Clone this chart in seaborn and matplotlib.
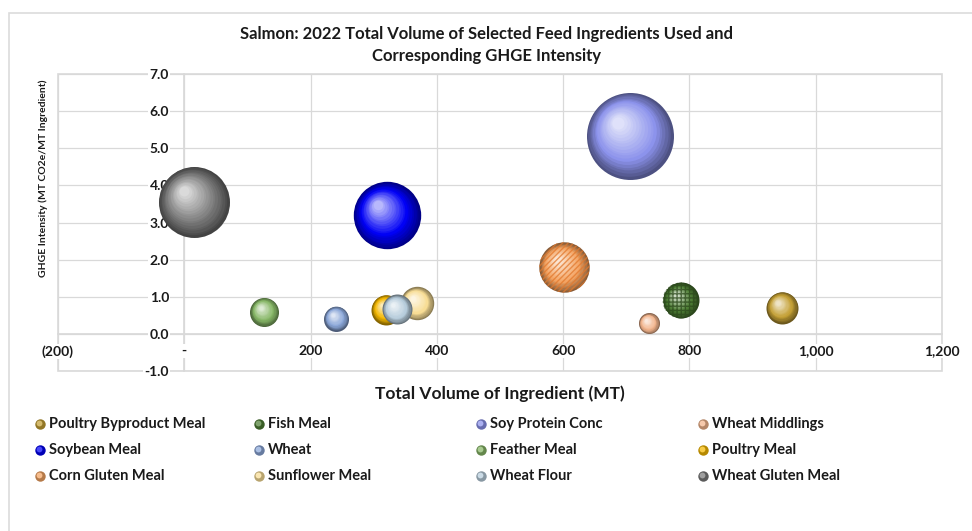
import numpy as np
import pandas as pd
import matplotlib
matplotlib.use("Agg")
import matplotlib.pyplot as plt
import matplotlib.colors as mcolors
from matplotlib.transforms import offset_copy
from matplotlib.patches import Rectangle
from matplotlib.lines import Line2D
from matplotlib.ticker import FuncFormatter, MultipleLocator
import seaborn as sns

# ---- data -------------------------------------------------------------
ingredients = [
    "Poultry Byproduct Meal", "Fish Meal", "Soy Protein Conc", "Wheat Middlings",
    "Soybean Meal", "Wheat", "Feather Meal", "Poultry Meal",
    "Corn Gluten Meal", "Sunflower Meal", "Wheat Flour", "Wheat Gluten Meal",
]
volume_mt = [947, 786, 706, 736, 321, 241, 127, 320, 602, 369, 337, 15]
ghge_intensity = [0.71, 0.90, 5.34, 0.28, 3.19, 0.41, 0.59, 0.65, 1.79, 0.82, 0.66, 3.55]
bubble_size = [256, 324, 1892, 110, 1136, 156, 210, 225, 635, 279, 225, 1260]
colors = [
    "#C4A035", "#4E7F35", "#8C93EC", "#F2B48C",
    "#0000F5", "#8AA6D8", "#86B666", "#F5B800",
    "#F4A462", "#F8DD95", "#B7CDDC", "#7A7A7A",
]
hatches = {"Corn Gluten Meal": ("//////", "#E2792E"), "Fish Meal": ("++++", "#2C4A1C")}

x_ticks = [-200, 0, 200, 400, 600, 800, 1000, 1200]
y_ticks = [-1, 0, 1, 2, 3, 4, 5, 6, 7]
title = "Salmon: 2022 Total Volume of Selected Feed Ingredients Used and\nCorresponding GHGE Intensity"
x_label = "Total Volume of Ingredient (MT)"
y_label = "GHGE Intensity (MT CO2e/MT Ingredient)"

df = pd.DataFrame({
    "Ingredient": ingredients,
    "Volume": volume_mt,
    "Intensity": ghge_intensity,
    "Bubble": bubble_size,
    "Color": colors,
})

# ---- style ------------------------------------------------------------
sns.set_theme(style="white")
plt.rcParams["font.family"] = ["Lato", "DejaVu Sans"]
plt.rcParams["font.weight"] = "bold"
plt.rcParams["hatch.linewidth"] = 1.0
GRID = "#d9d9d9"
TXT = "#1a1a1a"
AREA_PER_UNIT = 2.0736  # points^2 of marker area per bubble-size unit


def mix(c1, c2, t):
    a = np.array(mcolors.to_rgb(c1))
    b = np.array(mcolors.to_rgb(c2))
    return tuple(a + (b - a) * t)


def sphere_color(base, f):
    dark = mix(base, "black", 0.45)
    if f < 0.35:
        return mix(dark, base, f / 0.35)
    return mix(base, "white", 0.72 * (f - 0.35) / 0.65)


W, H = 972, 531
fig = plt.figure(figsize=(W / 100, H / 100), dpi=100)
ax = fig.add_axes([58 / W, 1 - 371 / H, (942 - 58) / W, (371 - 74) / H])

# outer chart border
fig.add_artist(Rectangle((9 / W, -0.02), 1.05, 1 - 13 / H + 0.02, transform=fig.transFigure,
                         fill=False, edgecolor="#dcdcdc", lw=1.2))

ax.set_xlim(-200, 1200)
ax.set_ylim(-1, 7)
ax.xaxis.set_major_locator(MultipleLocator(200))
ax.yaxis.set_major_locator(MultipleLocator(1))
ax.grid(True, color=GRID, lw=0.9)
ax.set_axisbelow(True)

# bubbles drawn as shaded spheres, series by series
N_LAYERS = 18
for k, row in df.iterrows():
    z = 3 + k
    s0 = AREA_PER_UNIT * row.Bubble
    r_pt = np.sqrt(s0) / 2
    sns.scatterplot(data=df.iloc[[k]], x="Volume", y="Intensity", s=s0,
                    color=sphere_color(row.Color, 0.0), linewidth=0, ax=ax,
                    zorder=z, legend=False)
    for i in range(1, N_LAYERS):
        f = i / (N_LAYERS - 1)
        rad = r_pt * (1 - 0.86 * f)
        off = 0.30 * r_pt * f
        tr = offset_copy(ax.transData, fig=fig, x=-off * 0.9, y=off, units="points")
        ax.scatter([row.Volume], [row.Intensity], s=(2 * rad) ** 2,
                   color=sphere_color(row.Color, f), lw=0, transform=tr,
                   zorder=z + 0.5 * f)
    if row.Ingredient in hatches:
        h, hc = hatches[row.Ingredient]
        ax.scatter([row.Volume], [row.Intensity], s=s0, facecolor="none",
                   edgecolor=hc, hatch=h, lw=0, alpha=0.75, zorder=z + 0.6)

# axes cross at (0, 0); frame and spines sit beneath the tick labels
for side in ["top", "right"]:
    ax.spines[side].set_visible(False)
ax.spines["left"].set_position(("data", 0))
ax.spines["bottom"].set_position(("data", 0))
for side in ["left", "bottom"]:
    ax.spines[side].set_color(GRID)
    ax.spines[side].set_zorder(0.3)
ax.add_patch(Rectangle((0, 0), 1, 1, transform=ax.transAxes, fill=False,
                       edgecolor=GRID, lw=1.2, clip_on=False, zorder=0.3))

ax.set_xticks(x_ticks)
ax.set_yticks(y_ticks)


def fmt_x(v, _):
    if v == 0:
        return "-"
    if v < 0:
        return f"({abs(v):,.0f})"
    return f"{v:,.0f}"


ax.xaxis.set_major_formatter(FuncFormatter(fmt_x))
ax.yaxis.set_major_formatter(FuncFormatter(lambda v, _: f"{v:.1f}"))
ax.tick_params(axis="both", length=0, labelsize=10, labelcolor=TXT)
ax.tick_params(axis="y", pad=11)
ax.tick_params(axis="x", pad=8)
for tick in ax.xaxis.get_major_ticks() + ax.yaxis.get_major_ticks():
    tick.label1.set_fontweight("bold")
    tick.label1.set_bbox(dict(facecolor="white", edgecolor="none", pad=1.0))

ax.set_xlabel(x_label, fontsize=12.5, fontweight="bold", color=TXT)
ax.xaxis.set_label_coords(0.5, -0.075)
ax.xaxis.label.set_va("center")
ax.set_ylabel(y_label, fontsize=7.5, fontweight="bold", color=TXT)
ax.yaxis.set_label_coords(-0.017, 0.65)
ax.yaxis.label.set_va("center")

fig.text(0.501, 1 - 45 / H, title, ha="center", va="center", fontsize=12,
         fontweight="bold", color=TXT, linespacing=1.45)

# legend: 4 columns x 3 rows, row-major order
col_x = [40, 259, 481, 703]
row_y = [424, 450, 476]
for k, (name, c) in enumerate(zip(ingredients, colors)):
    r, cidx = divmod(k, 4)
    xf, yf = col_x[cidx] / W, 1 - row_y[r] / H
    fig.add_artist(Line2D([xf], [yf], marker="o", ms=7.5, mfc=sphere_color(c, 0.15),
                          mec="none", transform=fig.transFigure))
    tr = offset_copy(fig.transFigure, fig=fig, x=-0.7, y=0.8, units="points")
    fig.add_artist(Line2D([xf], [yf], marker="o", ms=4.2, mfc=sphere_color(c, 0.6),
                          mec="none", transform=tr))
    fig.text(xf + 9 / W, yf, name, ha="left", va="center", fontsize=10.5,
             fontweight="bold", color=TXT)

fig.savefig("out.png", dpi=100)
